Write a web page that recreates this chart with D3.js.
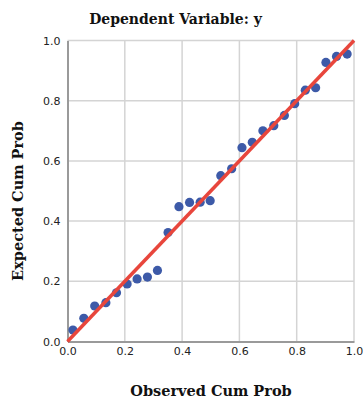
<!DOCTYPE html>
<html>
<head>
<meta charset="utf-8">
<script src="https://cdn.jsdelivr.net/npm/d3@7"></script>
<style>
  body { margin: 0; background: #fff; }
</style>
</head>
<body>
<div id="chart"></div>
<script>
const title = 'Dependent Variable: y';
const xLabel = 'Observed Cum Prob';
const yLabel = 'Expected Cum Prob';
const tickValues = [0, 0.2, 0.4, 0.6, 0.8, 1.0];

// observed vs expected cumulative probabilities
const observed = [0.019, 0.057, 0.095, 0.134, 0.171, 0.208, 0.243, 0.279, 0.314,
  0.351, 0.389, 0.426, 0.463, 0.498, 0.535, 0.573, 0.609, 0.645, 0.682, 0.720,
  0.757, 0.793, 0.830, 0.866, 0.902, 0.939, 0.976];
const expected = [0.038, 0.077, 0.118, 0.129, 0.162, 0.191, 0.208, 0.214, 0.236,
  0.362, 0.448, 0.462, 0.463, 0.468, 0.551, 0.574, 0.644, 0.662, 0.700, 0.717,
  0.751, 0.790, 0.835, 0.843, 0.927, 0.947, 0.955];
const refLine = [0, 1];

const W = 363, H = 401;
const margin = {top: 40.5, right: 9, bottom: 59.5, left: 67.5};
const width = W - margin.left - margin.right;
const height = H - margin.top - margin.bottom;

const svg = d3.select('#chart').append('svg')
    .attr('width', W)
    .attr('height', H);

const x = d3.scaleLinear().domain([0, 1]).range([0, width]);
const y = d3.scaleLinear().domain([0, 1]).range([height, 0]);

const g = svg.append('g')
    .attr('transform', 'translate(' + margin.left + ',' + margin.top + ')');

// grid
g.append('g')
    .selectAll('line')
    .data(tickValues.slice(1))
    .join('line')
    .attr('x1', d => x(d)).attr('x2', d => x(d))
    .attr('y1', 0).attr('y2', height)
    .attr('stroke', '#d4d4d4').attr('stroke-width', 1.5);

g.append('g')
    .selectAll('line')
    .data(tickValues.slice(1))
    .join('line')
    .attr('x1', 0).attr('x2', width)
    .attr('y1', d => y(d)).attr('y2', d => y(d))
    .attr('stroke', '#d4d4d4').attr('stroke-width', 1.5);

const xAxis = d3.axisBottom(x).tickValues(tickValues).tickFormat(d3.format('.1f')).tickSize(0).tickPadding(6);
const yAxis = d3.axisLeft(y).tickValues(tickValues).tickFormat(d3.format('.1f')).tickSize(0).tickPadding(7);

const gx = g.append('g').attr('transform', 'translate(0,' + height + ')').call(xAxis);
const gy = g.append('g').call(yAxis);

[gx, gy].forEach(a => {
  a.select('.domain').attr('stroke', '#9a9a9a').attr('stroke-width', 2);
  a.selectAll('text')
      .attr('font-family', 'DejaVu Sans, sans-serif')
      .attr('font-size', 11)
      .attr('fill', '#222');
});

// points
g.append('g')
    .selectAll('circle')
    .data(observed)
    .join('circle')
    .attr('cx', d => x(d))
    .attr('cy', (d, i) => y(expected[i]))
    .attr('r', 4.6)
    .attr('fill', '#3d5aa8');

// reference line
g.append('path')
    .datum(refLine)
    .attr('fill', 'none')
    .attr('stroke', '#e8463c')
    .attr('stroke-width', 3.5)
    .attr('d', d3.line().x(d => x(d)).y(d => y(d)));

const labelFont = 'DejaVu Serif, serif';

svg.append('text')
    .attr('x', 175.5)
    .attr('y', 23.5)
    .attr('text-anchor', 'middle')
    .attr('font-family', labelFont)
    .attr('font-weight', 'bold')
    .attr('font-size', 14)
    .attr('fill', '#111')
    .text(title);

svg.append('text')
    .attr('x', 211)
    .attr('y', 396)
    .attr('text-anchor', 'middle')
    .attr('font-family', labelFont)
    .attr('font-weight', 'bold')
    .attr('font-size', 14.5)
    .attr('fill', '#111')
    .text(xLabel);

svg.append('text')
    .attr('transform', 'translate(23,201) rotate(-90)')
    .attr('text-anchor', 'middle')
    .attr('font-family', labelFont)
    .attr('font-weight', 'bold')
    .attr('font-size', 14.5)
    .attr('fill', '#111')
    .text(yLabel);
</script>
</body>
</html>
